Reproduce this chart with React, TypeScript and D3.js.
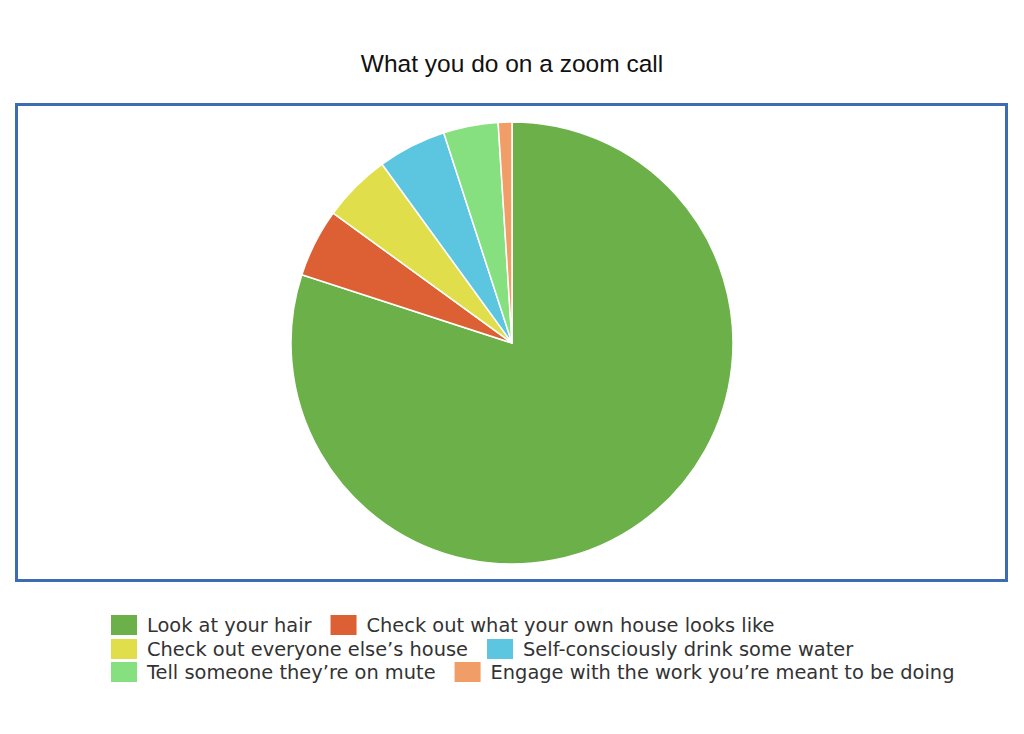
import React, { useEffect, useRef } from "react";
import * as d3 from "d3";

// Slice labels and values (percent), clockwise from 12 o'clock
const labels = [
  "Look at your hair",
  "Check out what your own house looks like",
  "Check out everyone else\u2019s house",
  "Self-consciously drink some water",
  "Tell someone they\u2019re on mute",
  "Engage with the work you\u2019re meant to be doing",
];
const values = [80, 5, 5, 5, 4, 1];
const colors = ["#6cb049", "#dc6033", "#e0df4b", "#5cc6e1", "#86e07f", "#f19d67"];

const App = () => {
  const ref = useRef<SVGSVGElement>(null);

  useEffect(() => {
    const svg = d3.select(ref.current);
    svg.selectAll("*").remove();

    const width = 1024;
    const height = 734;

    svg.attr("width", width).attr("height", height);

    // Title
    svg
      .append("text")
      .attr("x", 512)
      .attr("y", 72)
      .attr("text-anchor", "middle")
      .style("font-family", "'Liberation Sans', Arial, sans-serif")
      .style("font-size", "24.5px")
      .style("fill", "#111")
      .text("What you do on a zoom call");

    // Plot frame
    svg
      .append("rect")
      .attr("x", 16.5)
      .attr("y", 104.5)
      .attr("width", 990)
      .attr("height", 476)
      .attr("fill", "none")
      .attr("stroke", "#3c6db3")
      .attr("stroke-width", 3);

    // Pie
    const data = labels.map((l, i) => ({ label: l, value: values[i], color: colors[i] }));
    const pie = d3
      .pie<any>()
      .value((d) => d.value)
      .sort(null);
    const arc = d3.arc<any>().innerRadius(0).outerRadius(221);

    const g = svg.append("g").attr("transform", "translate(512,343)");
    g.selectAll("path")
      .data(pie(data))
      .enter()
      .append("path")
      .attr("d", arc)
      .attr("fill", (d) => d.data.color)
      .attr("stroke", "#fff")
      .attr("stroke-width", 1.5)
      .attr("stroke-linejoin", "round");

    // Legend: two items per row
    const legend = svg.append("g").attr("transform", "translate(111,0)");
    const rowY = [625, 649, 672];
    const swatchW = 26;
    const swatchH = 20;
    for (let r = 0; r < 3; r++) {
      let x = 0;
      for (let c = 0; c < 2; c++) {
        const i = r * 2 + c;
        legend
          .append("rect")
          .attr("x", x)
          .attr("y", rowY[r] - swatchH / 2)
          .attr("width", swatchW)
          .attr("height", swatchH)
          .attr("fill", colors[i]);
        const t = legend
          .append("text")
          .attr("x", x + swatchW + 10)
          .attr("y", rowY[r])
          .attr("dy", "0.35em")
          .style("font-family", "'DejaVu Sans', Verdana, sans-serif")
          .style("font-size", "19.4px")
          .style("fill", "#333")
          .text(labels[i]);
        const w = (t.node() as SVGTextElement).getComputedTextLength();
        x += swatchW + 10 + w + 19;
      }
    }
  }, []);

  return (
    <div style={{ position: "absolute", left: 0, top: 0 }}>
      <svg ref={ref}></svg>
    </div>
  );
};

export default App;
